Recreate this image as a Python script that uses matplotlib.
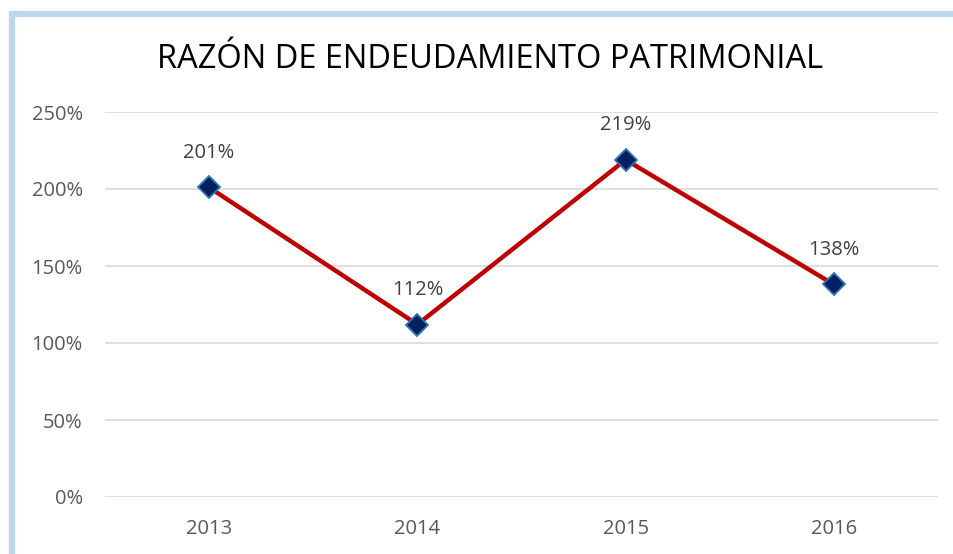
import matplotlib
matplotlib.use("Agg")
import matplotlib.pyplot as plt
from matplotlib.patches import Rectangle
from matplotlib.ticker import FuncFormatter

years = ["2013", "2014", "2015", "2016"]
values = [201, 112, 219, 138]
labels = ["201%", "112%", "219%", "138%"]
yticks = [0, 50, 100, 150, 200, 250]

W, H = 954, 554
fig = plt.figure(figsize=(W / 100, H / 100), dpi=100)
plt.rcParams['font.family'] = ['Open Sans', 'DejaVu Sans']

# border of chart area (light blue), cut off at right and bottom
fig.patches.append(Rectangle((12 / W, -0.1), 1.1, (H - 13.5) / H + 0.1,
                             transform=fig.transFigure, fill=False,
                             edgecolor="#BDD7EE", linewidth=4.5, zorder=0))

ax = fig.add_axes([105 / W, 1 - 497 / H, (938 - 105) / W, (497 - 112) / H])
x = list(range(len(years)))
ax.plot(x, values, color="#C00000", linewidth=3.2, zorder=2)
ax.plot(x, values, linestyle="none", marker="D", markersize=11,
        markerfacecolor="#002060", markeredgecolor="#2E75B6",
        markeredgewidth=1.3, zorder=3)
for xi, v, lab in zip(x, values, labels):
    ax.annotate(lab, (xi, v), xytext=(0, 25), textcoords="offset points",
                ha="center", va="center", fontsize=14.5, color="#404040")

ax.set_xlim(-0.5, len(years) - 0.5)
ax.set_ylim(0, 250)
ax.set_yticks(yticks)
ax.yaxis.set_major_formatter(FuncFormatter(lambda v, p: f"{int(v)}%"))
ax.set_xticks(x)
ax.set_xticklabels(years)
ax.grid(axis="y", color="#D9D9D9", linewidth=1.2)
ax.set_axisbelow(True)
for s in ax.spines.values():
    s.set_visible(False)
ax.tick_params(axis="both", length=0, labelsize=14.5, colors="#595959")
ax.tick_params(axis="y", pad=16)
ax.tick_params(axis="x", pad=16)

fig.text(490 / W, 1 - 59 / H, "RAZÓN DE ENDEUDAMIENTO PATRIMONIAL",
         ha="center", va="center", fontsize=23.5, color="#000000")

fig.savefig("out.png", dpi=100)
